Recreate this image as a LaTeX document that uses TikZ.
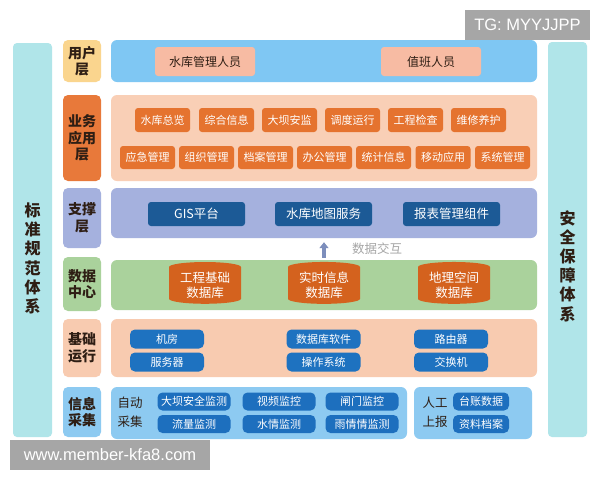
\documentclass[tikz,border=0pt]{standalone}
\usepackage{fontspec}
\usepackage{xcolor}
\setmainfont{Noto Sans CJK SC}
\newfontfamily\wmfont{Liberation Sans}
\usetikzlibrary{shapes,arrows.meta,positioning}

\definecolor{sidecyan}{HTML}{B0E5E9}
\definecolor{labeltext}{HTML}{2E1E14}
\definecolor{userlabel}{HTML}{FAD58E}
\definecolor{userpanel}{HTML}{7FC7F3}
\definecolor{useritem}{HTML}{F7BBA3}
\definecolor{bizlabel}{HTML}{E8793A}
\definecolor{bizpanel}{HTML}{F9CFB6}
\definecolor{bizitem}{HTML}{E5732F}
\definecolor{suppanel}{HTML}{A5B1DE}
\definecolor{supitem}{HTML}{1C5A96}
\definecolor{datapanel}{HTML}{AAD29C}
\definecolor{dbbrown}{HTML}{D4621E}
\definecolor{basepanel}{HTML}{F8CBB0}
\definecolor{baseitem}{HTML}{1E72C0}
\definecolor{infopanel}{HTML}{8DCAF1}
\definecolor{infoitem}{HTML}{1D6FBE}
\definecolor{arrowblue}{HTML}{7D8EBC}
\definecolor{softgray}{HTML}{A6A6A6}

\begin{document}
\begin{tikzpicture}[x=1pt,y=-1pt]
  \tikzstyle{sidebar}=[rectangle, rounded corners=4pt, fill=sidecyan, minimum width=39pt]
  \tikzstyle{sidetext}=[align=center, text=labeltext, font=\fontsize{16}{19.2}\selectfont\bfseries]
  \tikzstyle{layer}=[rectangle, rounded corners=5pt, minimum width=38pt, inner sep=0pt, align=center, text=labeltext, font=\fontsize{14}{16.5}\selectfont\bfseries]
  \tikzstyle{panel}=[rectangle, rounded corners=6pt, minimum width=426pt]
  \tikzstyle{item}=[rectangle, rounded corners=3pt, inner sep=0pt, text=white, font=\fontsize{11}{13}\selectfont]
  \tikzstyle{bizbox}=[item, fill=bizitem, minimum width=55pt, minimum height=24pt]
  \tikzstyle{supbox}=[item, fill=supitem, minimum width=97pt, minimum height=24pt, font=\fontsize{12.5}{14}\selectfont]
  \tikzstyle{basebox}=[item, rounded corners=5pt, fill=baseitem, minimum width=74pt, minimum height=19pt]
  \tikzstyle{infobox}=[item, rounded corners=5pt, fill=infoitem, minimum width=73pt, minimum height=18pt]
  \tikzstyle{database}=[cylinder, shape border rotate=90, aspect=0.2, fill=dbbrown, minimum width=72pt, minimum height=35pt, inner sep=0pt, align=center, text=white, font=\fontsize{12.5}{15}\selectfont]
  \tikzstyle{plain}=[align=center, text=labeltext, font=\fontsize{12.5}{19}\selectfont]
  \tikzstyle{watermark}=[rectangle, fill=softgray, inner sep=0pt, text=white, font=\wmfont\fontsize{16.5}{18}\selectfont]
  \tikzstyle{flow}=[-{Triangle[width=9pt,length=6pt]}, line width=3.5pt, arrowblue, shorten <=2pt, shorten >=4pt]

  \fill[white] (0,0) rectangle (600,480);
  \useasboundingbox (0,0) rectangle (600,480);

  % Barras laterales
  \node[sidebar, minimum height=394pt] (std) at (32.5,240) {};
  \node[sidetext] (stdtext) at (32.5,258.5) {标\\准\\规\\范\\体\\系};
  \node[sidebar, minimum height=395pt] (sec) at (567.5,239.5) {};
  \node[sidetext] (sectext) at (567.5,266) {安\\全\\保\\障\\体\\系};

  % Etiquetas de capa
  \node[layer, fill=userlabel, minimum height=42pt] (luser) at (82,61) {用户\\层};
  \node[layer, fill=bizlabel, minimum height=86pt] (lbiz) at (82,138) {业务\\应用\\层};
  \node[layer, fill=suppanel, minimum height=60pt] (lsup) at (82,218) {支撑\\层};
  \node[layer, fill=datapanel, minimum height=54pt] (ldata) at (82,284) {数据\\中心};
  \node[layer, fill=basepanel, minimum height=58pt] (lbase) at (82,348) {基础\\运行};
  \node[layer, fill=infopanel, minimum height=50pt] (linfo) at (82,412) {信息\\采集};

  % Paneles
  \node[panel, fill=userpanel, minimum height=42pt] (puser) at (324,61) {};
  \node[panel, fill=bizpanel, minimum height=86pt] (pbiz) at (324,138) {};
  \node[panel, fill=suppanel, minimum height=50pt] (psup) at (324,213) {};
  \node[panel, fill=datapanel, minimum height=50pt] (pdata) at (324,285) {};
  \node[panel, fill=basepanel, minimum height=58pt] (pbase) at (324,348) {};
  \node[panel, fill=infopanel, minimum width=296pt, minimum height=52pt] (pauto) at (259,413) {};
  \node[panel, fill=infopanel, minimum width=118pt, minimum height=52pt] (pman) at (473,413) {};

  % Capa de usuario
  \node[item, fill=useritem, text=labeltext, minimum width=100pt, minimum height=29pt, font=\fontsize{12}{14}\selectfont] (u1) at (205,61.5) {水库管理人员};
  \node[item, fill=useritem, text=labeltext, minimum width=100pt, minimum height=29pt, font=\fontsize{12}{14}\selectfont] (u2) at (431,61.5) {值班人员};

  % Capa de aplicaciones
  \node[bizbox] (b1) at (162.5,120) {水库总览};
  \node[bizbox] (b2) at (226.5,120) {综合信息};
  \node[bizbox] (b3) at (289.5,120) {大坝安监};
  \node[bizbox] (b4) at (352.5,120) {调度运行};
  \node[bizbox] (b5) at (415.5,120) {工程检查};
  \node[bizbox] (b6) at (478.5,120) {维修养护};
  \node[bizbox, minimum height=23pt] (b7) at (147.5,157.5) {应急管理};
  \node[bizbox, minimum height=23pt] (b8) at (206.5,157.5) {组织管理};
  \node[bizbox, minimum height=23pt] (b9) at (265.5,157.5) {档案管理};
  \node[bizbox, minimum height=23pt] (b10) at (324.5,157.5) {办公管理};
  \node[bizbox, minimum height=23pt] (b11) at (383.5,157.5) {统计信息};
  \node[bizbox, minimum height=23pt] (b12) at (443,157.5) {移动应用};
  \node[bizbox, minimum height=23pt] (b13) at (502.5,157.5) {系统管理};

  % Capa de soporte
  \node[supbox] (s1) at (196.5,214) {GIS平台};
  \node[supbox] (s2) at (323.5,214) {水库地图服务};
  \node[supbox] (s3) at (451.5,214) {报表管理组件};

  % Intercambio de datos
  \draw[flow] (pdata) -- (psup);
  \node[text=softgray, font=\fontsize{12.5}{14}\selectfont] (xchg) at (377,249) {数据交互};

  % Centro de datos
  \node[database] (db1) at (205,285.5) {工程基础\\数据库};
  \node[database] (db2) at (324,285.5) {实时信息\\数据库};
  \node[database] (db3) at (454,285.5) {地理空间\\数据库};

  % Operacion basica
  \node[basebox] (o1) at (167,339) {机房};
  \node[basebox] (o2) at (167,362) {服务器};
  \node[basebox] (o3) at (323.5,339) {数据库软件};
  \node[basebox] (o4) at (323.5,362) {操作系统};
  \node[basebox] (o5) at (451,339) {路由器};
  \node[basebox] (o6) at (451,362) {交换机};

  % Recoleccion de informacion
  \node[plain] (auto) at (130,412.5) {自动\\采集};
  \node[infobox] (i1) at (194,401.5) {大坝安全监测};
  \node[infobox] (i2) at (279,401.5) {视频监控};
  \node[infobox] (i3) at (362,401.5) {闸门监控};
  \node[infobox] (i4) at (194,424) {流量监测};
  \node[infobox] (i5) at (279,424) {水情监测};
  \node[infobox] (i6) at (362,424) {雨情情监测};
  \node[plain] (manual) at (435,412.5) {人工\\上报};
  \node[infobox, minimum width=56pt] (i7) at (481,401.5) {台账数据};
  \node[infobox, minimum width=56pt] (i8) at (481,424) {资料档案};

  % Marcas de agua
  \node[watermark, minimum width=125pt, minimum height=30pt] (tg) at (527.5,25) {TG: MYYJJPP};
  \node[watermark, minimum width=200pt, minimum height=30pt] (web) at (110,455) {www.member-kfa8.com};
\end{tikzpicture}
\end{document}
